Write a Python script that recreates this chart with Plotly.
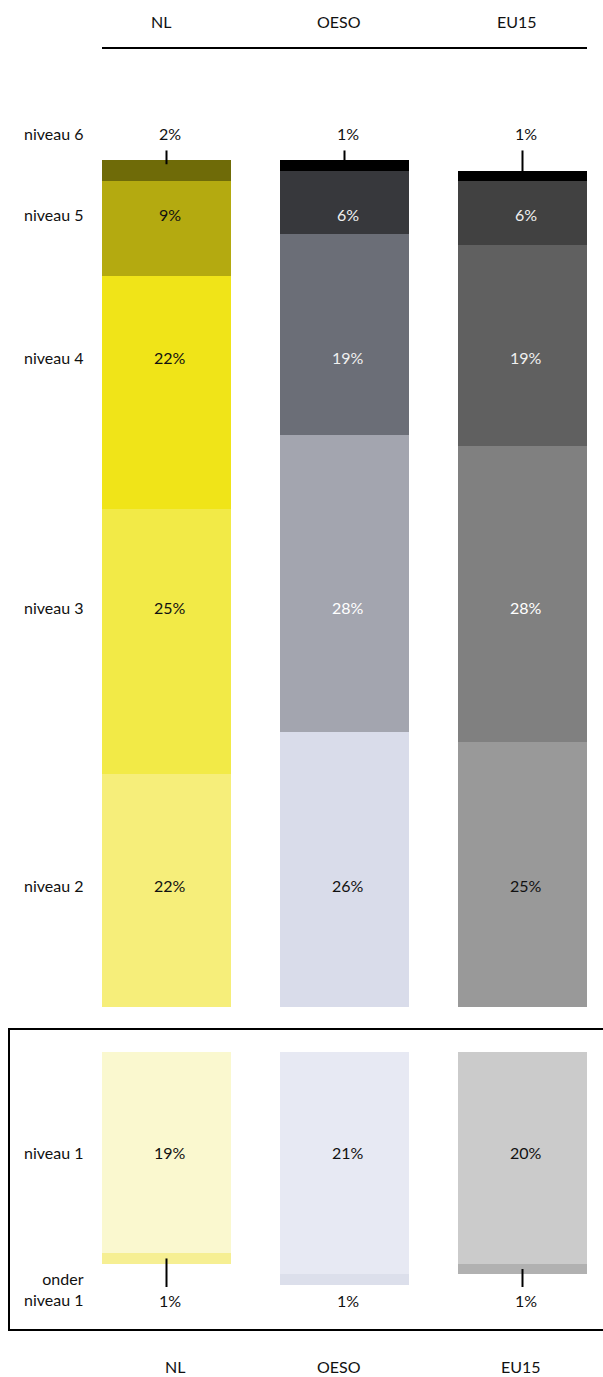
import plotly.graph_objects as go

# data (percent of students per level)
countries = ["NL", "OESO", "EU15"]
top_levels = ["niveau 2", "niveau 3", "niveau 4", "niveau 5", "niveau 6"]
nl_top = [22, 25, 22, 9, 2]
oeso_top = [26, 28, 19, 6, 1]
eu15_top = [25, 28, 19, 6, 1]
niveau_1 = [19, 21, 20]
onder_niveau_1 = [1, 1, 1]

# colours, niveau 2 -> niveau 6
nl_colors = ["#f6ee7a", "#f2ea47", "#f0e418", "#b4aa10", "#6f6b08"]
oeso_colors = ["#d9dcea", "#a3a5af", "#6b6e77", "#37383c", "#000000"]
eu15_colors = ["#999999", "#808080", "#606060", "#414141", "#000000"]
lvl1_colors = ["#faf8cf", "#e7e9f3", "#cbcbcb"]
onder_colors = ["#f6ef93", "#dcdfeb", "#b1b1b1"]
# text colour inside each segment, niveau 2 -> niveau 5
nl_text = ["#111", "#111", "#111", "#111"]
oeso_text = ["#111", "#ffffff", "#f0f0f0", "#f0f0f0"]
eu15_text = ["#111", "#ffffff", "#f0f0f0", "#f0f0f0"]

W, H = 603, 1377
L, R = 102, 587          # plot area in px
PX = 10.5875             # px per percent
FONT = "Lato"
FS = 16
ROW_NUDGE = [-7, -1, 0, 0]   # small vertical tweaks of the row labels (px)


def py(p):
    return 1 - p / H


def pxx(p):
    return (p - L) / (R - L)


tops = [nl_top, oeso_top, eu15_top]
top_cols = [nl_colors, oeso_colors, eu15_colors]
txt_cols = [nl_text, oeso_text, eu15_text]
xs = [0, 1, 2]
bw = 0.725
xr = [-(129 / 2) / 178, 2 + (129 / 2) / 178]

fig = go.Figure()
for k in range(len(top_levels)):
    fig.add_trace(go.Bar(
        x=xs, y=[t[k] for t in tops],
        marker=dict(color=[c[k] for c in top_cols], line=dict(width=0)),
        width=bw, xaxis="x", yaxis="y", hoverinfo="skip", showlegend=False))

fig.add_trace(go.Bar(x=xs, y=niveau_1, marker=dict(color=lvl1_colors, line=dict(width=0)),
                     width=bw, xaxis="x", yaxis="y2", hoverinfo="skip", showlegend=False))
fig.add_trace(go.Bar(x=xs, y=onder_niveau_1, marker=dict(color=onder_colors, line=dict(width=0)),
                     width=bw, xaxis="x", yaxis="y2", hoverinfo="skip", showlegend=False))

ann = []
shapes = []

def text(x, y, t, xref="x", yref="y", xanchor="center", yanchor="middle", color="#111",
         xshift=0, yshift=0, align="center"):
    ann.append(dict(x=x, y=y, xref=xref, yref=yref, text=t, showarrow=False,
                    xanchor=xanchor, yanchor=yanchor, xshift=xshift, yshift=yshift, align=align,
                    font=dict(family=FONT, size=FS, color=color)))

# column headers and footers
for i, c in enumerate(countries):
    text(i, py(22), c, yref="paper", xshift=-6)
    text(i, py(1366), c, yref="paper", xshift=[8, -6, -2][i])

# segment centres -> row positions (mean across columns)
totals = [sum(t) for t in tops]
rows = []
for k in range(4):
    centers = [sum(t[:k]) + t[k] / 2 for t in tops]
    rows.append(sum(centers) / len(centers))
top_row = max(totals) + 2.55

for k in range(4):
    text(pxx(86), rows[k], top_levels[k], xref="paper", xanchor="right", yshift=ROW_NUDGE[k])
    for i in range(3):
        text(i, rows[k], f"{tops[i][k]}%", color=txt_cols[i][k], xshift=3, yshift=ROW_NUDGE[k])

text(pxx(86), top_row, top_levels[4], xref="paper", xanchor="right")
for i in range(3):
    text(i, top_row, f"{tops[i][4]}%", xshift=3)
    shapes.append(dict(type="line", xref="x", yref="y", x0=i, x1=i,
                       y0=totals[i] - 0.4, y1=max(totals) + 0.9,
                       line=dict(color="#000", width=2)))

# lower block
lvl1_row = sum(v / 2 for v in niveau_1) / 3
low_row = (1300 - 1052) / PX
tick_end = (1287 - 1052) / PX
text(pxx(86), lvl1_row, "niveau 1", xref="paper", yref="y2", xanchor="right", yshift=5)
text(pxx(86), low_row + 1.0, "onder<br>niveau 1", xref="paper", yref="y2",
     xanchor="right", yanchor="bottom", align="right")
for i in range(3):
    text(i, lvl1_row, f"{niveau_1[i]}%", yref="y2", xshift=3, yshift=5)
    text(i, low_row, f"{onder_niveau_1[i]}%", yref="y2", xshift=3)
    bottom = niveau_1[i] + onder_niveau_1[i]
    if bottom < tick_end - 0.5:
        shapes.append(dict(type="line", xref="x", yref="y2", x0=i, x1=i,
                           y0=niveau_1[i] + onder_niveau_1[i] / 2, y1=tick_end,
                           line=dict(color="#000", width=2)))

# header rule and box around the lower block
shapes.append(dict(type="line", xref="paper", yref="paper", x0=0, x1=1,
                   y0=py(48), y1=py(48), line=dict(color="#000", width=2)))
shapes.append(dict(type="rect", xref="paper", yref="paper", x0=pxx(9), x1=pxx(612),
                   y0=py(1330), y1=py(1029), line=dict(color="#000", width=2)))

hidden = dict(visible=False, showgrid=False, zeroline=False, fixedrange=True)
fig.update_layout(
    width=W, height=H, barmode="stack", bargap=0,
    margin=dict(l=L, r=W - R, t=0, b=0, pad=0),
    paper_bgcolor="white", plot_bgcolor="white",
    xaxis=dict(range=xr, anchor="y", **hidden),
    yaxis=dict(domain=[py(1007), py(48)], range=[0, (1007 - 48) / PX], **hidden),
    yaxis2=dict(domain=[py(1330), py(1052)], range=[(1330 - 1052) / PX, 0], anchor="x", **hidden),
    annotations=ann, shapes=shapes,
    font=dict(family=FONT, size=FS, color="#111"),
)

# page body has an 8px default margin; remove it so the figure sits at 0,0
fig.write_html("out.html", config={"displayModeBar": False},
               post_script="document.body.style.margin='0';document.body.style.overflow='hidden';")
